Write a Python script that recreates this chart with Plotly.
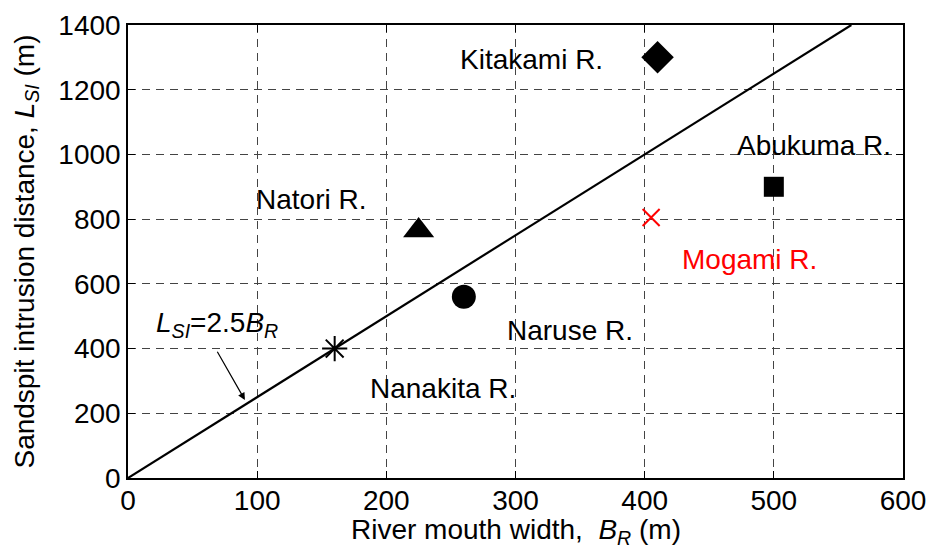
import plotly.graph_objects as go

# River observations: mouth width B_R (m) vs sandspit intrusion distance L_SI (m)
rivers = ["Nanakita R.", "Naruse R.", "Natori R.", "Kitakami R.", "Abukuma R.", "Mogami R."]
width_m = [160, 260, 225, 410, 500, 405]
intrusion_m = [400, 560, 765, 1300, 900, 805]
symbols = ["asterisk-open", "circle", "triangle-up", "diamond", "square", "x-thin-open"]
sizes = [21, 24, 27, 25, 20, 17]
colors = ["black", "black", "black", "black", "black", "red"]

# Label anchor positions in data units
label_x = [244, 342, 142, 312, 531, 481]
label_y = [278, 457, 862, 1292, 1029, 674]

# Fitted relation L_SI = 2.5 B_R
slope = 2.5
fit_x = [0, 560]
fit_y = [slope * v for v in fit_x]

x_ticks = [0, 100, 200, 300, 400, 500, 600]
y_ticks = [0, 200, 400, 600, 800, 1000, 1200, 1400]

FONT = "Liberation Sans, Arial, Helvetica, sans-serif"
FS = 28

fig = go.Figure()

fig.add_trace(go.Scatter(
    x=fit_x, y=fit_y, mode="lines",
    line=dict(color="black", width=2.2),
    showlegend=False, hoverinfo="skip",
))

for name, bx, ly, sym, sz, col in zip(rivers, width_m, intrusion_m, symbols, sizes, colors):
    fig.add_trace(go.Scatter(
        x=[bx], y=[ly], mode="markers", name=name,
        marker=dict(symbol=sym, size=sz, color=col,
                    line=dict(color=col, width=2 if "open" in sym else 0)),
        showlegend=False,
    ))

for name, tx, ty, col in zip(rivers, label_x, label_y, colors):
    fig.add_annotation(x=tx, y=ty, text=name, showarrow=False,
                       font=dict(family=FONT, size=FS, color=col))

# Equation label with arrow pointing to the fitted line
fig.add_annotation(
    x=69, y=473, text="<i>L</i><sub><i>SI</i></sub>=2.5<i>B</i><sub><i>R</i></sub>",
    showarrow=False, font=dict(family=FONT, size=FS, color="black"),
)
fig.add_annotation(
    x=90.5, y=241, ax=68.5, ay=395, axref="x", ayref="y",
    text="", showarrow=True, arrowhead=2, arrowsize=1.2, arrowwidth=1.2,
    arrowcolor="black",
)

# x-axis title, set just beneath the tick labels
fig.add_annotation(
    x=0.5, y=-0.075, xref="paper", yref="paper", xanchor="center", yanchor="top",
    text="River mouth width,  <i>B</i><sub><i>R</i></sub> (m)", showarrow=False,
    font=dict(family=FONT, size=FS, color="black"),
)

axis_common = dict(
    showline=True, linecolor="black", linewidth=1.5, mirror="allticks",
    ticks="inside", ticklen=7, tickcolor="black",
    showgrid=True, gridcolor="#444444", griddash="8px,6px", gridwidth=1,
    zeroline=False, automargin=False,
    tickfont=dict(family=FONT, size=FS, color="black"),
)

fig.update_xaxes(
    range=[0, 600], tickvals=x_ticks, ticktext=[str(v) for v in x_ticks],
    ticklabelstandoff=-3,
    **axis_common,
)
fig.update_yaxes(
    range=[0, 1400], tickvals=y_ticks, ticktext=[str(v) for v in y_ticks],
    title=dict(text="Sandspit intrusion distance, <i>L</i><sub><i>SI</i></sub> (m)",
               font=dict(family=FONT, size=FS, color="black"), standoff=16),
    **axis_common,
)

fig.update_layout(
    width=930, height=548,
    margin=dict(l=128, r=27, t=25, b=70, autoexpand=False),
    paper_bgcolor="white", plot_bgcolor="white",
    font=dict(family=FONT, color="black"),
)

fig.write_html("out.html")
